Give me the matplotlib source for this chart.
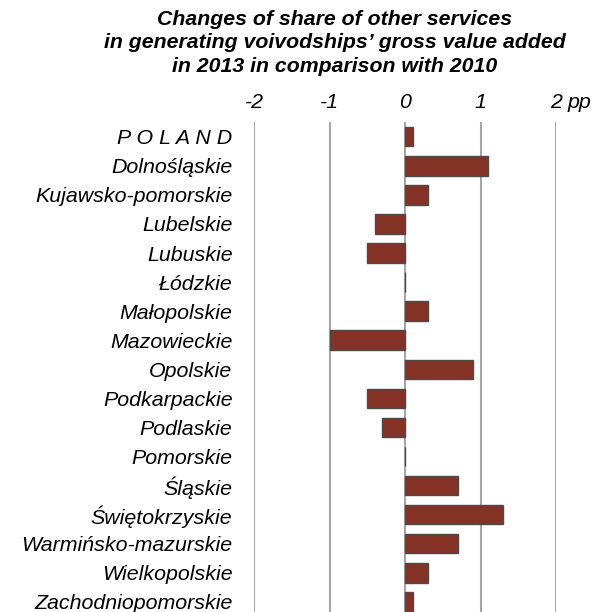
import matplotlib
matplotlib.use("Agg")
import matplotlib.pyplot as plt

categories = ["P O L A N D", "Dolnośląskie", "Kujawsko-pomorskie", "Lubelskie", "Lubuskie",
              "Łódzkie", "Małopolskie", "Mazowieckie", "Opolskie", "Podkarpackie",
              "Podlaskie", "Pomorskie", "Śląskie", "Świętokrzyskie", "Warmińsko-mazurskie",
              "Wielkopolskie", "Zachodniopomorskie"]
values = [0.1, 1.1, 0.3, -0.4, -0.5, 0.0, 0.3, -1.0, 0.9, -0.5, -0.3, 0.0, 0.7, 1.3, 0.7, 0.3, 0.1]
xticks = [-2, -1, 0, 1, 2]
xticklabels = ["-2", "-1", "0", "1", "2"]
title = "Changes of share of other services\nin generating voivodships’ gross value added\nin 2013 in comparison with 2010"

plt.rcParams['font.family'] = ['Liberation Sans', 'DejaVu Sans']

W, H = 596, 612
fig = plt.figure(figsize=(W / 100, H / 100), dpi=100)
ax_top, ax_bot = 122.2, 616.4
ax = fig.add_axes([254 / W, 1 - ax_bot / H, (556 - 254) / W, (ax_bot - ax_top) / H])

y = list(range(len(categories)))
ax.barh(y, values, height=0.67, color="#843225", edgecolor="#4a4a4a", linewidth=1.0, zorder=3)
ax.set_ylim(len(categories) - 0.5, -0.5)
ax.set_xlim(-2, 2)
ax.set_xticks(xticks)
ax.set_xticklabels(xticklabels, fontsize=15.4, fontstyle="italic")
ax.xaxis.tick_top()
ax.tick_params(axis="x", length=0, pad=7)
ax.set_yticks(y)
ax.set_yticklabels(categories, fontsize=15.4, fontstyle="italic")
ax.tick_params(axis="y", length=0, pad=15.5)
for s in ax.spines.values():
    s.set_visible(False)
ax.grid(axis="x", color="#a6a6a6", linewidth=1.5, zorder=0)
ax.set_axisbelow(True)

ax.annotate("pp", xy=(2, 1), xycoords=("data", "axes fraction"), xytext=(8, 7),
            textcoords="offset points", ha="left", va="bottom", fontsize=15.4, fontstyle="italic")

fig.text(335 / W, 1 - 10 / H, title, ha="center", va="top", fontsize=15.3,
         fontweight="bold", fontstyle="italic", linespacing=1.3)

fig.savefig("out.png", dpi=100)
